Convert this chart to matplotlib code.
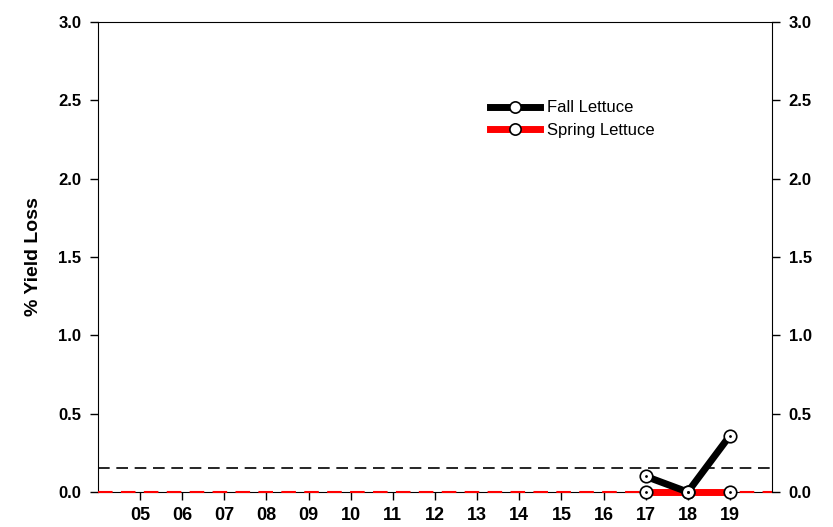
import matplotlib
matplotlib.use("Agg")
import matplotlib.pyplot as plt

plt.rcParams['font.family'] = ['Liberation Sans', 'DejaVu Sans']

# Data
years = [17, 18, 19]
fall = [0.10, 0.0, 0.36]
spring = [0.0, 0.0, 0.0]
tick_years = list(range(5, 20))
tick_labels = ["%02d" % y for y in tick_years]
threshold = 0.155

fig = plt.figure(figsize=(8.33, 5.27), dpi=100)
ax = fig.add_axes([0.1176, 0.0664, 0.8092, 0.8919])

ax.axhline(threshold, color='black', lw=1.2, ls=(0, (7, 4)), zorder=1)
ax.axhline(0, color='red', lw=1.5, ls=(0, (7, 4)), zorder=5, clip_on=False)

ax.plot(years, fall, color='black', lw=5, marker='o', ms=9,
        mfc='white', mec='black', mew=1.2, label='Fall Lettuce', zorder=7,
        clip_on=False)
ax.plot(years, spring, color='red', lw=5, marker='o', ms=9,
        mfc='white', mec='black', mew=1.2, label='Spring Lettuce', zorder=6,
        clip_on=False)
# small dot inside markers
ax.plot(years, fall, ls='none', marker='.', ms=2, color='black', zorder=8,
        clip_on=False)
ax.plot(years, spring, ls='none', marker='.', ms=2, color='black', zorder=8,
        clip_on=False)

ax.set_xlim(4, 20)
ax.set_ylim(0, 3.0)
ax.set_xticks(tick_years)
ax.set_xticklabels(tick_labels, fontsize=13, fontweight='bold')
ax.set_yticks([0, 0.5, 1.0, 1.5, 2.0, 2.5, 3.0])
ax.set_yticklabels(["%.1f" % v for v in [0, 0.5, 1.0, 1.5, 2.0, 2.5, 3.0]],
                   fontsize=12, fontweight='bold')
ax.tick_params(axis='both', direction='out', length=6, width=1, pad=6)
ax.tick_params(axis='x', pad=5)
ax.tick_params(axis='y', right=True, labelright=True)
ax.set_ylabel('% Yield Loss', fontsize=14, fontweight='bold', labelpad=12)

ax.legend(loc='upper left', bbox_to_anchor=(0.56, 0.865), frameon=False,
          fontsize=12, handlelength=3, labelspacing=0.45, handletextpad=0.4,
          markerscale=0.9)

fig.savefig('out.png', dpi=100)
